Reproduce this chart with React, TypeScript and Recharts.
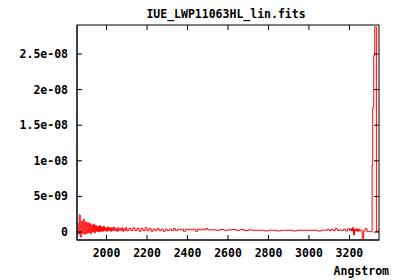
import { LineChart, Line, XAxis, YAxis } from "recharts";

const TITLE = "IUE_LWP11063HL_lin.fits";
const X_LABEL = "Angstrom";

// flux values are in units of 1e-10 erg/s/cm2/A
const noisyWave = [
  1855, 1860, 1865, 1870, 1875, 1880, 1885, 1890, 1895, 1900,
  1905, 1910, 1915, 1920, 1925, 1930, 1935, 1940, 1945, 1950,
  1955, 1960, 1965, 1970, 1975, 1980, 1985, 1990, 1995, 2000,
  2005, 2010, 2015, 2020, 2025, 2030, 2035, 2040, 2045, 2050,
  2055, 2060, 2065, 2070, 2075, 2080, 2085, 2090, 2095, 2100,
];
const noisyFlux = [
  12, -3, 24, -7, 15, -2, 18, -3, 14, -2,
  13, -1, 12, -2, 10, 0, 11, -1, 9, 1,
  8, 0, 9, 1, 7, 1, 8, 2, 6, 1,
  7, 2, 6, 1, 6, 2, 7, 2, 5, 1,
  6, 2, 5, 2, 6, 1, 5, 2, 6, 2,
];

const midWave = [
  2110, 2120, 2130, 2140, 2150, 2160, 2170, 2180, 2190, 2200,
  2210, 2220, 2230, 2240, 2250, 2260, 2270, 2280, 2290, 2300,
  2310, 2320, 2330, 2340, 2350, 2360, 2370, 2380, 2390, 2400,
  2410, 2420, 2430, 2440, 2450, 2460, 2470, 2480, 2490, 2500,
];
const midFlux = [
  5, 2, 6, 2, 5, 1, 5, 2, 6, 2,
  5, 1, 4, 2, 5, 2, 4, 1, 4, 2,
  4, 2, 5, 2, 4, 3, 4, 1, 4, 3,
  4, 3, 4, 1, 4, 3, 4, 3, 5, 3,
];

const flatWave = [
  2520, 2540, 2560, 2580, 2600, 2620, 2640, 2660, 2680, 2700,
  2720, 2740, 2760, 2780, 2800, 2820, 2840, 2860, 2880, 2900,
  2920, 2940, 2960, 2980, 3000, 3020, 3040, 3060, 3080, 3090,
  3100, 3110, 3120, 3130, 3140, 3150, 3160, 3170, 3180, 3190,
];
const flatFlux = [
  3, 2.5, 3.5, 2.5, 3, 3.5, 2.5, 3.5, 2, 3,
  2.5, 2.5, 2.5, 1.5, 2.5, 2.5, 1.5, 2.5, 2.5, 2.5,
  1.5, 2.5, 2.5, 2.5, 2.5, 2.5, 1.5, 2.5, 2.5, 4,
  2, 3.5, 2, 5, 2, 3, 2, 4, 1.5, 4.5,
];

const redWave = [
  3200, 3205, 3210, 3215, 3220, 3225, 3230, 3235, 3240, 3245,
  3250, 3255, 3263, 3270, 3277, 3287, 3312, 3315, 3320, 3325,
  3333, 3338, 3346,
];
const redFlux = [
  2.5, 4.5, 1.5, 6, -4, 4, 1.5, 4.5, 1, 4,
  1.5, 2.5, -9, 1, 4.5, 0.5, 94, 175, 248, 288,
  0.5, 1.5, 1,
];

const xTicks = [2000, 2200, 2400, 2600, 2800, 3000, 3200];
const yTicks = [0, 5e-9, 1e-8, 1.5e-8, 2e-8, 2.5e-8];
const yTickLabels = ["0", "5e-09", "1e-08", "1.5e-08", "2e-08", "2.5e-08"];

const xDomain = [1854, 3346];
const yDomain = [-1.12e-9, 2.907e-8];

const allWave = [...noisyWave, ...midWave, ...flatWave, ...redWave];
const allFlux = [...noisyFlux, ...midFlux, ...flatFlux, ...redFlux];
const data = allWave.map((w, i) => ({ wave: w, flux: allFlux[i] * 1e-10 }));

const W = 400;
const H = 280;
const margin = { top: 25, right: 21, bottom: 0, left: 0 };
const yAxisWidth = 77;
const xAxisHeight = 40;
const plotL = margin.left + yAxisWidth;
const plotT = margin.top;
const plotW = W - margin.left - margin.right - yAxisWidth;
const plotH = H - margin.top - margin.bottom - xAxisHeight;
const TICK = 5;

// same linear mapping the axes use, for the mirrored frame ticks
const px = (v: number) => plotL + ((v - xDomain[0]) / (xDomain[1] - xDomain[0])) * plotW;
const py = (v: number) => plotT + plotH - ((v - yDomain[0]) / (yDomain[1] - yDomain[0])) * plotH;

const font = {
  fontFamily: "'DejaVu Sans Mono', monospace",
  fontSize: 11.5,
  fontWeight: "bold" as const,
  fill: "#000",
};

function Frame() {
  return (
    <svg
      width={W}
      height={H}
      style={{ position: "absolute", left: 0, top: 0, pointerEvents: "none" }}
    >
      <rect x={plotL} y={plotT} width={plotW} height={plotH} fill="none" stroke="#000" />
      {xTicks.map((t) => (
        <line key={"x" + t} x1={px(t)} x2={px(t)} y1={plotT} y2={plotT + TICK} stroke="#000" />
      ))}
      {yTicks.map((t) => (
        <line
          key={"y" + t}
          x1={plotL + plotW}
          x2={plotL + plotW - TICK}
          y1={py(t)}
          y2={py(t)}
          stroke="#000"
        />
      ))}
    </svg>
  );
}

export default function App() {
  return (
    <div style={{ position: "relative", width: W, height: H }}>
      <style>{"body{margin:0}"}</style>
      <div
        style={{
          position: "absolute",
          left: 75,
          width: 302,
          top: 8,
          textAlign: "center",
          fontFamily: font.fontFamily,
          fontSize: 11.5,
          fontWeight: "bold",
          lineHeight: "12px",
          color: "#000",
        }}
      >
        {TITLE}
      </div>
      <LineChart width={W} height={H} data={data} margin={margin}>
        <XAxis
          dataKey="wave"
          type="number"
          domain={xDomain}
          ticks={xTicks}
          allowDataOverflow
          height={xAxisHeight}
          tickSize={-TICK}
          tickMargin={14}
          tick={font}
          axisLine={{ stroke: "#000" }}
          tickLine={{ stroke: "#000" }}
          label={{
            value: X_LABEL,
            position: "insideBottomRight",
            offset: 0,
            dx: 10,
            dy: -5,
            style: font,
          }}
        />
        <YAxis
          type="number"
          domain={yDomain}
          ticks={yTicks}
          allowDataOverflow
          width={yAxisWidth}
          tickSize={-TICK}
          tickMargin={14}
          tick={font}
          tickFormatter={(v: number) => yTickLabels[yTicks.indexOf(v)] ?? String(v)}
          axisLine={{ stroke: "#000" }}
          tickLine={{ stroke: "#000" }}
        />
        <Line
          type="stepAfter"
          dataKey="flux"
          stroke="#ff0000"
          strokeWidth={1}
          dot={false}
          isAnimationActive={false}
        />
      </LineChart>
      <Frame />
    </div>
  );
}
